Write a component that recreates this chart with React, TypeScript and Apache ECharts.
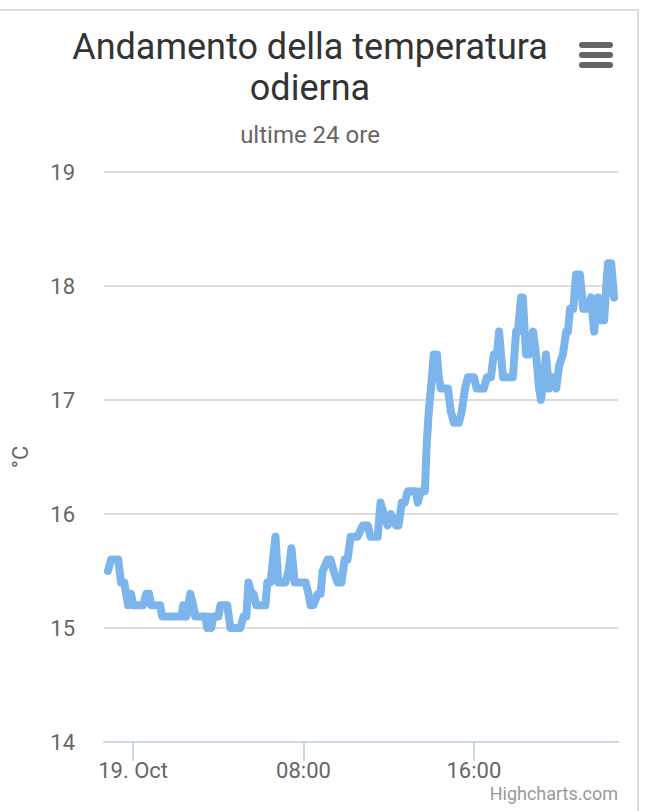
import React, { useEffect, useRef } from "react";
import * as echarts from "echarts";

// minutes from 19 Oct 00:00
const minutes = [
  -71, -62, -42, -34, -25, -20, -14, -6, 0, 28,
  37, 45, 51, 76, 82, 136, 141, 150, 161, 169,
  175, 203, 209, 215, 220, 226, 240, 246, 265, 274,
  302, 311, 319, 325, 333, 339, 347, 373, 378, 387,
  401, 409, 429, 438, 446, 455, 486, 494, 500, 508,
  520, 528, 534, 548, 556, 565, 576, 587, 596, 604,
  613, 632, 647, 661, 669, 689, 697, 706, 717, 726,
  740, 748, 757, 765, 774, 796, 802, 810, 822, 827,
  833, 839, 847, 856, 861, 867, 887, 895, 904, 918,
  926, 935, 943, 960, 968, 988, 997, 1008, 1016, 1025,
  1031, 1042, 1070, 1079, 1084, 1093, 1098, 1107, 1115, 1127,
  1135, 1144, 1149, 1158, 1163, 1172, 1180, 1192, 1200, 1211,
  1220, 1225, 1231, 1240, 1248, 1259, 1268, 1279, 1290, 1299,
  1310, 1319, 1327, 1333, 1338, 1347, 1355,
];

const temps = [
  15.5, 15.6, 15.6, 15.4, 15.4, 15.3, 15.2, 15.3, 15.2, 15.2,
  15.3, 15.3, 15.2, 15.2, 15.1, 15.1, 15.2, 15.1, 15.3, 15.2,
  15.1, 15.1, 15.0, 15.1, 15.0, 15.1, 15.1, 15.2, 15.2, 15.0,
  15.0, 15.1, 15.1, 15.4, 15.3, 15.3, 15.2, 15.2, 15.4, 15.4,
  15.8, 15.4, 15.4, 15.5, 15.7, 15.4, 15.4, 15.3, 15.2, 15.2,
  15.3, 15.3, 15.5, 15.6, 15.6, 15.5, 15.4, 15.4, 15.6, 15.6,
  15.8, 15.8, 15.9, 15.9, 15.8, 15.8, 16.1, 16.0, 15.9, 16.0,
  15.9, 15.9, 16.1, 16.1, 16.2, 16.2, 16.1, 16.2, 16.2, 16.6,
  16.9, 17.1, 17.4, 17.4, 17.2, 17.1, 17.1, 16.9, 16.8, 16.8,
  16.9, 17.1, 17.2, 17.2, 17.1, 17.1, 17.2, 17.2, 17.4, 17.4,
  17.6, 17.2, 17.2, 17.6, 17.6, 17.9, 17.9, 17.4, 17.4, 17.6,
  17.4, 17.1, 17.0, 17.2, 17.4, 17.1, 17.2, 17.1, 17.3, 17.4,
  17.6, 17.6, 17.8, 17.8, 18.1, 18.1, 17.8, 17.8, 17.9, 17.6,
  17.9, 17.7, 17.7, 18.0, 18.2, 18.2, 17.9,
];

const xTickValues = [0, 480, 960];
const xTickLabels = ["19. Oct", "08:00", "16:00"];
const titleText = "Andamento della temperatura\nodierna";
const subtitleText = "ultime 24 ore";
const yAxisName = "°C";
const creditsText = "Highcharts.com";

export default function App() {
  const ref = useRef<HTMLDivElement>(null);
  useEffect(() => {
    document.body.style.margin = "0";
    const chart = echarts.init(ref.current!, undefined, { renderer: "svg" });
    const span = minutes[minutes.length - 1] - minutes[0];
    const pad = span * 0.0078;
    const font = "Roboto";
    chart.setOption({
      animation: false,
      backgroundColor: "#ffffff",
      title: [
        {
          text: titleText,
          left: 310,
          top: 26,
          textAlign: "center",
          padding: 0,
          textStyle: {
            fontFamily: font,
            fontSize: 36,
            fontWeight: "normal",
            color: "#333333",
            lineHeight: 41,
          },
        },
        {
          text: subtitleText,
          left: 310,
          top: 121,
          textAlign: "center",
          padding: 0,
          textStyle: {
            fontFamily: font,
            fontSize: 24,
            fontWeight: "normal",
            color: "#666666",
            lineHeight: 28,
          },
        },
      ],
      grid: {
        left: 104,
        right: 52,
        top: 172,
        bottom: 69,
        containLabel: false,
        outerBoundsMode: "none",
      },
      xAxis: {
        type: "value",
        min: minutes[0] - pad,
        max: minutes[minutes.length - 1] + pad,
        axisLine: { show: true, lineStyle: { color: "#ccd6eb", width: 2 } },
        axisTick: {
          show: true,
          customValues: xTickValues,
          length: 19,
          lineStyle: { color: "#ccd6eb", width: 2 },
        },
        axisLabel: {
          customValues: xTickValues,
          formatter: (v: number) => {
            const i = xTickValues.indexOf(Math.round(v));
            return i >= 0 ? xTickLabels[i] : "";
          },
          fontFamily: font,
          fontSize: 22,
          color: "#666666",
          margin: 17,
        },
        splitLine: { show: false },
      },
      yAxis: {
        type: "value",
        min: 14,
        max: 19,
        interval: 1,
        name: yAxisName,
        nameLocation: "middle",
        nameGap: 73,
        nameRotate: 90,
        nameTextStyle: { fontFamily: font, fontSize: 22, color: "#666666" },
        axisLine: { show: false },
        axisTick: { show: false },
        axisLabel: { fontFamily: font, fontSize: 22, color: "#666666", margin: 29 },
        splitLine: { lineStyle: { color: "#dcdcdc", width: 2 } },
      },
      series: [
        {
          type: "line",
          data: minutes.map((m, i) => [m, temps[i]]),
          showSymbol: false,
          symbol: "none",
          lineStyle: { color: "#7cb5ec", width: 8, cap: "round", join: "round" },
          itemStyle: { color: "#7cb5ec" },
          z: 3,
        },
      ],
      graphic: [
        {
          type: "line",
          shape: { x1: 0, y1: 10, x2: 639, y2: 10 },
          style: { stroke: "#dddddd", lineWidth: 2 },
        },
        {
          type: "line",
          shape: { x1: 638, y1: 10, x2: 638, y2: 811 },
          style: { stroke: "#dddddd", lineWidth: 2 },
        },
        {
          type: "rect",
          shape: { x: 579, y: 42, width: 34, height: 6, r: 3 },
          style: { fill: "#666666" },
        },
        {
          type: "rect",
          shape: { x: 579, y: 52, width: 34, height: 6, r: 3 },
          style: { fill: "#666666" },
        },
        {
          type: "rect",
          shape: { x: 579, y: 62, width: 34, height: 6, r: 3 },
          style: { fill: "#666666" },
        },
        {
          type: "text",
          right: 52,
          top: 784,
          style: {
            text: creditsText,
            fontFamily: font,
            fontSize: 18,
            fill: "#999999",
          },
        },
      ],
    });
    return () => chart.dispose();
  }, []);
  return <div ref={ref} style={{ width: 670, height: 811 }} />;
}
